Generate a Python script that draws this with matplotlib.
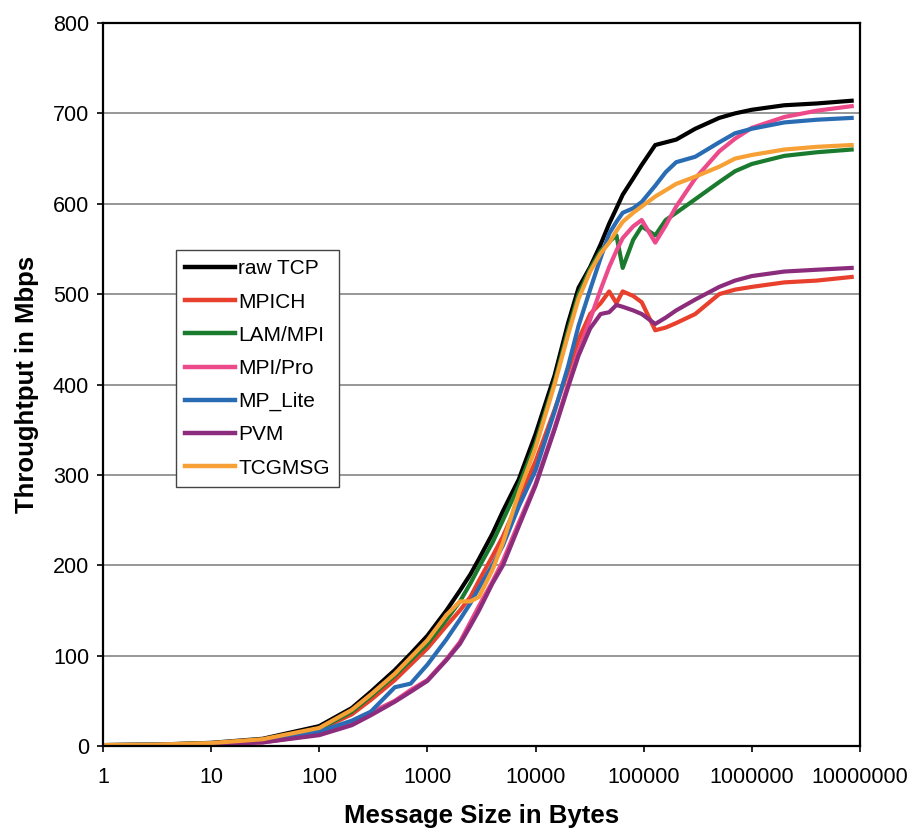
import matplotlib
matplotlib.use('Agg')
import matplotlib.pyplot as plt
import numpy as np

plt.rcParams['font.family'] = ['Liberation Sans', 'DejaVu Sans']

# Message sizes in bytes
sizes = [1, 3, 10, 30, 100, 200, 300, 500, 700, 1000, 1500, 2000, 2500, 3000,
         4000, 5000, 7000, 10000, 15000, 20000, 25000, 32000, 40000, 48000,
         56000, 64000, 80000, 96000, 128000, 160000, 200000, 300000, 500000,
         700000, 1000000, 2000000, 4000000, 8388608]

# Throughput in Mbps for each library
raw_tcp = [1, 1.5, 3.5, 8, 22, 42, 60, 84, 102, 122, 150, 172, 190, 207, 235,
           260, 295, 345, 410, 468, 507, 530, 555, 578, 595, 610, 628, 643,
           665, 668, 671, 683, 695, 700, 704, 709, 711, 714]
mpich = [1, 1.5, 3, 6.5, 18, 35, 51, 73, 90, 108, 133, 150, 165, 183, 210,
         232, 272, 315, 372, 415, 450, 478, 490, 503, 490, 503, 498, 491,
         460, 463, 468, 478, 500, 505, 508, 513, 515, 519]
lam_mpi = [1, 1.5, 3, 7, 19, 38, 55, 78, 95, 113, 140, 160, 180, 198, 225,
           250, 288, 335, 403, 460, 500, 528, 548, 558, 565, 529, 560, 575,
           565, 582, 590, 605, 624, 636, 644, 653, 657, 660]
mpi_pro = [0.5, 1, 2, 4, 13, 25, 37, 50, 62, 73, 96, 115, 137, 155, 182,
           205, 247, 290, 352, 400, 437, 472, 505, 530, 548, 562, 575, 582,
           557, 576, 597, 628, 658, 672, 684, 696, 703, 708]
mp_lite = [1, 1.5, 2.5, 6, 16, 28, 38, 65, 69, 90, 118, 140, 158, 175, 200,
           222, 265, 305, 370, 420, 465, 505, 540, 567, 580, 590, 595, 602,
           620, 635, 646, 652, 668, 678, 683, 690, 693, 695]
pvm = [0.5, 1, 2, 4, 12, 23, 34, 49, 60, 72, 95, 113, 133, 150, 180,
       200, 243, 288, 350, 397, 432, 462, 478, 480, 488, 486, 482, 478,
       467, 474, 482, 494, 508, 515, 520, 525, 527, 529]
tcgmsg = [1, 1.5, 3.2, 7.5, 20, 40, 57, 80, 98, 117, 145, 160, 160, 165, 195,
          225, 280, 330, 400, 455, 495, 525, 545, 557, 570, 580, 590, 597,
          608, 615, 622, 630, 641, 650, 654, 660, 663, 665]

labels = ['raw TCP', 'MPICH', 'LAM/MPI', 'MPI/Pro', 'MP_Lite', 'PVM', 'TCGMSG']
series = [raw_tcp, mpich, lam_mpi, mpi_pro, mp_lite, pvm, tcgmsg]
colors = ['#000000', '#e8402c', '#1a7a2e', '#ec4a8a', '#2a6cb4', '#8c2c7c', '#f7a035']

fig = plt.figure(figsize=(9.09, 8.31), dpi=100)
ax = fig.add_axes([0.1133, 0.1023, 0.8327, 0.870])

for y, c, lab in zip(series, colors, labels):
    ax.plot(sizes, y, color=c, lw=3.0, label=lab, solid_joinstyle='round')

ax.set_xscale('log')
ax.set_xlim(1, 1e7)
ax.set_ylim(0, 800)
ax.set_xticks([10 ** k for k in range(8)])
ax.set_xticklabels([str(10 ** k) for k in range(8)])
ax.xaxis.set_minor_locator(matplotlib.ticker.NullLocator())
ax.set_yticks(range(0, 801, 100))

ax.yaxis.grid(True, color='#858585', lw=1.2)
ax.set_axisbelow(True)
for s in ax.spines.values():
    s.set_color('black')
    s.set_linewidth(1.6)

ax.tick_params(axis='both', direction='out', length=4, width=1.2, labelsize=15.5)
ax.tick_params(axis='x', pad=11)
ax.tick_params(axis='y', pad=6)

ax.set_xlabel('Message Size in Bytes', fontsize=18.5, fontweight='bold', labelpad=12)
ax.set_ylabel('Throughtput in Mbps', fontsize=18.5, fontweight='bold', labelpad=10)

leg = ax.legend(loc='upper left', bbox_to_anchor=(0.096, 0.686), borderaxespad=0,
                fontsize=15, handlelength=2.4, handletextpad=0.15,
                labelspacing=0.68, borderpad=0.45, fancybox=False, framealpha=1)
leg.get_frame().set_edgecolor('#444444')
leg.get_frame().set_linewidth(1.0)
for line in leg.get_lines():
    line.set_linewidth(3.2)

fig.savefig('out.png', dpi=100)
